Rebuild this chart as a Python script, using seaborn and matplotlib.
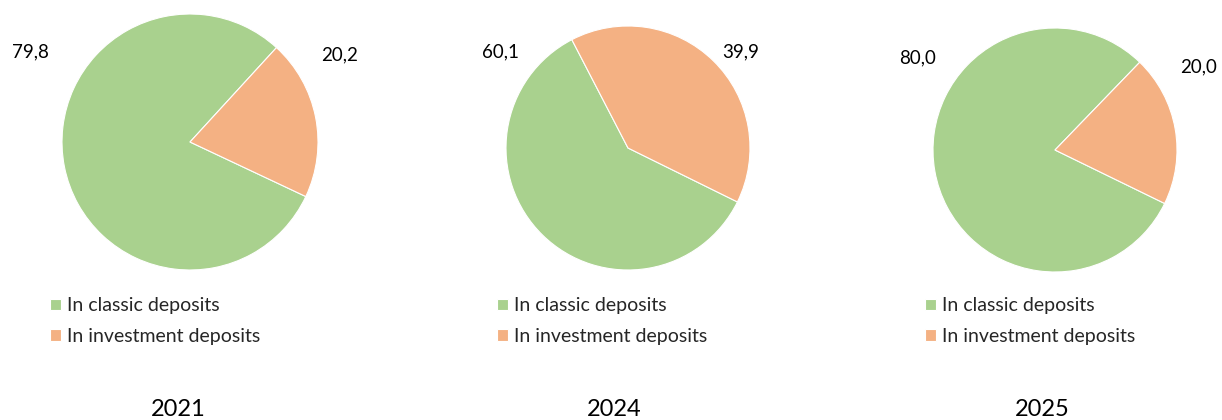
import matplotlib
matplotlib.use("Agg")
import matplotlib.pyplot as plt
import seaborn as sns

sns.set_theme(style="white")
plt.rcParams['font.family'] = ['Lato', 'DejaVu Sans']

years = ['2021', '2024', '2025']
classic = [79.8, 60.1, 80.0]
investment = [20.2, 39.9, 20.0]
series_names = ['In classic deposits', 'In investment deposits']
colors = ['#A9D18E', '#F4B183']

W, H = 1222, 420
# pie centre (px), radius (px), start angle, label positions (px)
layout = [
    dict(c=(190, 142), r=128, start=47.5, lab=[(30, 52), (340, 55)], leg=50, yr=178),
    dict(c=(628, 148), r=122, start=117.4, lab=[(501, 52), (741, 52)], leg=497, yr=614),
    dict(c=(1055, 150), r=122, start=46.0, lab=[(918, 58), (1199, 67)], leg=925, yr=1042),
]

fig = plt.figure(figsize=(W / 100, H / 100), dpi=100)

for i, year in enumerate(years):
    L = layout[i]
    cx, cy = L['c']
    r = L['r']
    ax = fig.add_axes([(cx - r) / W, (H - cy - r) / H, 2 * r / W, 2 * r / H])
    wedges, _ = ax.pie([classic[i], investment[i]], colors=colors, startangle=L['start'],
                       counterclock=True, radius=1,
                       wedgeprops=dict(edgecolor='white', linewidth=0.8))
    ax.set_xlim(-1, 1)
    ax.set_ylim(-1, 1)
    ax.axis('off')

    vals = [classic[i], investment[i]]
    for (lx, ly), v in zip(L['lab'], vals):
        fig.text(lx / W, 1 - ly / H, f'{v:.1f}'.replace('.', ','), ha='center', va='center',
                 fontsize=13.5, color='black')

    fig.legend(wedges, series_names, loc='upper left',
               bbox_to_anchor=(L['leg'] / W, 1 - 297.5 / H), frameon=False,
               fontsize=14, handlelength=0.55, handleheight=0.55, handletextpad=0.3,
               labelspacing=0.68, borderaxespad=0, borderpad=0)

    fig.text(L['yr'] / W, 1 - 410 / H, year, ha='center', va='center', fontsize=17, color='black')

fig.savefig('out.png', dpi=100)
